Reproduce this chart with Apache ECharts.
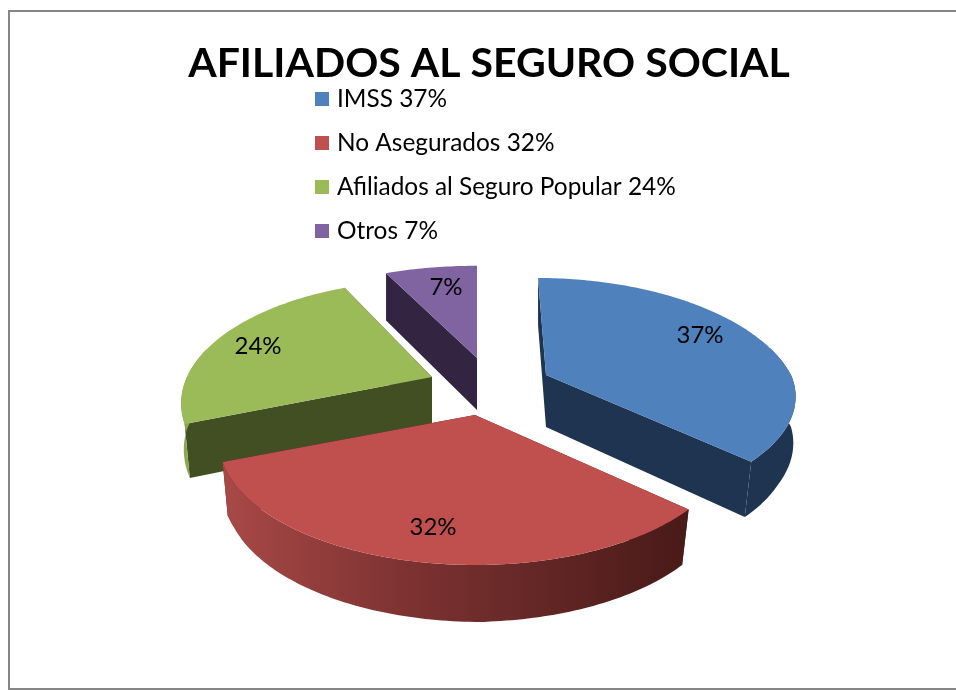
<!DOCTYPE html>
<html>
<head>
<meta charset="utf-8">
<title>Afiliados al seguro social</title>
<style>
  html, body { margin: 0; padding: 0; background: #fff; }
  #chart { width: 956px; height: 690px; }
</style>
<script src="https://cdn.jsdelivr.net/npm/echarts@6/dist/echarts.min.js"></script>
</head>
<body>
<div id="chart"></div>
<script>
// Exploded 3D-look pie. ECharts has no 3D pie, so each slice is a custom series
// that projects its own rim from the value-derived angles.
const categories = ['IMSS', 'No Asegurados', 'Afiliados al Seguro Popular', 'Otros'];
const values = [37, 32, 24, 7];

const TOP_COLORS = ['#4f81bd', '#c0504d', '#9bbb59', '#8064a2'];
const SIDE_COLORS = ['#1f3450', '#4a1a18', '#414f23', '#332541'];
const RIM_STOPS = [
  [[0, '#1f3450'], [1, '#1f3450']],
  [[0, '#a84947'], [0.4, '#7c3231'], [1, '#481a18']],
  [[0, '#8aa650'], [1, '#8aa650']],
  [[0, '#332541'], [1, '#332541']],
];
// Where each exploded slice's tip lands, its size, and its label offset from the tip.
// lean pulls the back of the slice sideways, frontRy / frontX trim the near half.
const SLICE_LAYOUT = [
  { x: 546, y: 375, rx: 245, ry: 117.8, lean: 45, frontRy: 108, frontX: -6, label: [154, -40] },
  { x: 475, y: 415, rx: 250, ry: 117.8, lean: 0, frontRy: 117.8, frontX: 0, label: [-42, 112] },
  { x: 432, y: 377, rx: 245, ry: 117.8, lean: 0, frontRy: 117.8, frontX: 0, label: [-174, -31] },
  { x: 477, y: 358, rx: 255, ry: 112, lean: 0, frontRy: 112, frontX: 0, label: [-31, -71] },
];
const DRAW_ORDER = [3, 2, 0, 1];

const PERSPECTIVE = 0.2146;
const DEPTH = 52;
const VANISH_X = 490;

const total = values.reduce((a, b) => a + b, 0);
const rad = (deg) => (deg * Math.PI) / 180;

function project(tip, deg) {
  const u = Math.sin(rad(deg));
  const v = -Math.cos(rad(deg));
  const s = 1 / (1 - PERSPECTIVE * v);
  const ry = v > 0 ? tip.frontRy : tip.ry;
  const x = tip.x + tip.rx * u * s + tip.lean * Math.min(s - 1, 0) + tip.frontX * Math.max(v, 0);
  return [x, tip.y + ry * v * s, v];
}

// Base of the wall under a rim point: nearer points pull in towards the middle.
function lower(p) {
  const pull = Math.min(6.5, 14 * Math.max(p[2], 0));
  return [p[0] - Math.sign(p[0] - VANISH_X) * pull, p[1] + DEPTH + 5 * p[2]];
}

const flat = (p) => [p[0], p[1]];

function sliceItem(idx, startDeg, endDeg) {
  const tip = SLICE_LAYOUT[idx];
  const rim = [];
  for (let d = startDeg; d < endDeg; d += 1) rim.push(project(tip, d));
  rim.push(project(tip, endDeg));
  const apex = [tip.x, tip.y, 0];
  const apexLow = lower(apex);

  const outer = rim.filter((p) => p[2] > -0.25);
  const stops = RIM_STOPS[idx].map(([offset, color]) => ({ offset, color }));
  const children = [];
  const poly = (points, fill) => children.push({
    type: 'polygon',
    shape: { points },
    style: { fill, stroke: null },
  });

  // walls first, top face over them
  poly([flat(apex), flat(rim[0]), lower(rim[0]), apexLow], SIDE_COLORS[idx]);
  const last = rim[rim.length - 1];
  poly([flat(apex), flat(last), lower(last), apexLow], SIDE_COLORS[idx]);
  if (outer.length > 1) {
    poly(
      outer.map(flat).concat(outer.slice().reverse().map(lower)),
      new echarts.graphic.LinearGradient(0, 0, 1, 0, stops)
    );
  }
  poly([flat(apex)].concat(rim.map(flat)), TOP_COLORS[idx]);
  children.push({
    type: 'text',
    style: {
      text: values[idx] + '%',
      x: tip.x + tip.label[0],
      y: tip.y + tip.label[1],
      align: 'center',
      verticalAlign: 'middle',
      fill: '#000',
      fontFamily: 'Lato',
      fontSize: 24,
    },
  });
  return { type: 'group', children };
}

let running = 0;
const spans = values.map((v) => {
  const span = [(running / total) * 360, ((running + v) / total) * 360];
  running += v;
  return span;
});

const legendName = (i) => `${categories[i]} ${values[i]}%`;

const series = DRAW_ORDER.map((i) => ({
  type: 'custom',
  name: legendName(i),
  coordinateSystem: 'none',
  itemStyle: { color: TOP_COLORS[i] },
  data: [spans[i]],
  renderItem: (params, api) => sliceItem(i, api.value(0), api.value(1)),
}));

const chart = echarts.init(document.getElementById('chart'), null, { renderer: 'canvas' });
chart.setOption({
  animation: false,
  backgroundColor: '#fff',
  title: {
    text: 'AFILIADOS AL SEGURO SOCIAL',
    left: 484,
    top: 38,
    textAlign: 'center',
    textStyle: { fontFamily: 'Lato', fontWeight: 'bold', fontSize: 41, color: '#000' },
  },
  legend: {
    orient: 'vertical',
    left: 315,
    top: 87,
    padding: 0,
    icon: 'rect',
    itemWidth: 14,
    itemHeight: 14,
    itemGap: 20,
    data: categories.map((c, i) => legendName(i)),
    textStyle: { fontFamily: 'Lato', fontSize: 24.4, lineHeight: 24, color: '#000', padding: [0, 0, 0, 3] },
  },
  graphic: [
    { type: 'polyline', silent: true,
      shape: { points: [[956, 11], [9, 11], [9, 689], [956, 689]] },
      style: { stroke: '#868686', lineWidth: 2, fill: null } },
  ],
  series,
});
</script>
</body>
</html>
